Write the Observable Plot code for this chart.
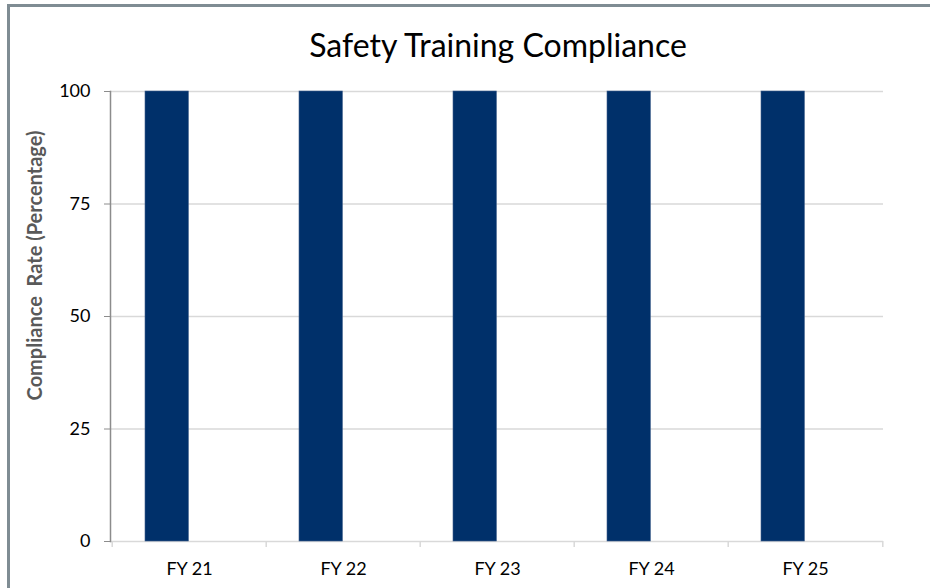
<!DOCTYPE html>
<html>
<head>
<meta charset="utf-8">
<script src="https://cdn.jsdelivr.net/npm/d3@7"></script>
<script src="https://cdn.jsdelivr.net/npm/@observablehq/plot@0.6"></script>
<style>
  html, body { margin: 0; padding: 0; background: #fff; }
  #wrap { position: relative; width: 930px; height: 588px; overflow: hidden; background: #fff; }
  #border { position: absolute; left: 7px; top: 4px; width: 940px; height: 600px; border-left: 3px solid #7f8c93; border-top: 3px solid #7f8c93; box-sizing: border-box; }
  #title { position: absolute; left: 0; top: 25px; width: 930px; text-align: center; font-family: Lato, "Open Sans", sans-serif; font-size: 32px; color: #000; padding-left: 66px; box-sizing: border-box; line-height: 40px; }
  #chart { position: absolute; left: 0; top: 70px; }
</style>
</head>
<body>
<div id="wrap">
  <div id="border"></div>
  <div id="title">Safety Training Compliance</div>
  <div id="chart"></div>
</div>
<script>
const categories = ["FY 21", "FY 22", "FY 23", "FY 24", "FY 25"];
const compliance = [100, 100, 100, 100, 100];
const yTicks = [0, 25, 50, 75, 100];
const yLabel = "Compliance  Rate (Percentage)";

const data = categories.map((c, i) => ({cat: c, value: compliance[i]}));

const W = 930, H = 518;
const mL = 110, mR = 47, mT = 21, mB = 47;
const bw = (W - mL - mR) / categories.length;
const font = 'Lato, "Open Sans", sans-serif';

const chart = Plot.plot({
  width: W,
  height: H,
  marginLeft: mL,
  marginRight: mR,
  marginTop: mT,
  marginBottom: mB,
  style: {fontFamily: font, fontSize: "18px", color: "#000", background: "transparent", overflow: "visible"},
  x: {domain: categories, padding: 0, label: null},
  y: {domain: [0, 100], label: null},
  marks: [
    Plot.ruleY(yTicks.filter(d => d > 0), {stroke: "#d9d9d9", strokeWidth: 1.5}),
    Plot.ruleY([0], {stroke: "#d9d9d9", strokeWidth: 1.5}),
    Plot.ruleX(categories, {x: d => d, y1: 0, y2: -6 * 100 / (H - mT - mB), dx: -bw / 2, stroke: "#d9d9d9", strokeWidth: 1.5}),
    Plot.ruleX([categories[categories.length - 1]], {x: d => d, y1: 0, y2: -6 * 100 / (H - mT - mB), dx: bw / 2, stroke: "#d9d9d9", strokeWidth: 1.5}),
    Plot.barY(data, {x: "cat", y: "value", fill: "#00306a", stroke: "#3f5f8c", strokeWidth: 0.6, insetLeft: 33, insetRight: bw - 77}),
    Plot.frame({anchor: "left", stroke: "#8c8c8c", strokeWidth: 1.5}),
    Plot.axisY({ticks: yTicks, tickSize: 6, tickPadding: 14, stroke: "#8c8c8c", fontSize: 18, label: null}),
    Plot.axisX({tickSize: 0, tickPadding: 21, fontSize: 18, label: null}),
    Plot.text([yLabel], {frameAnchor: "left", textAnchor: "middle", rotate: -90, dx: -75, dy: -51, fontWeight: "bold", fill: "#595959", fontSize: 20})
  ]
});
document.getElementById("chart").appendChild(chart);
</script>
</body>
</html>
